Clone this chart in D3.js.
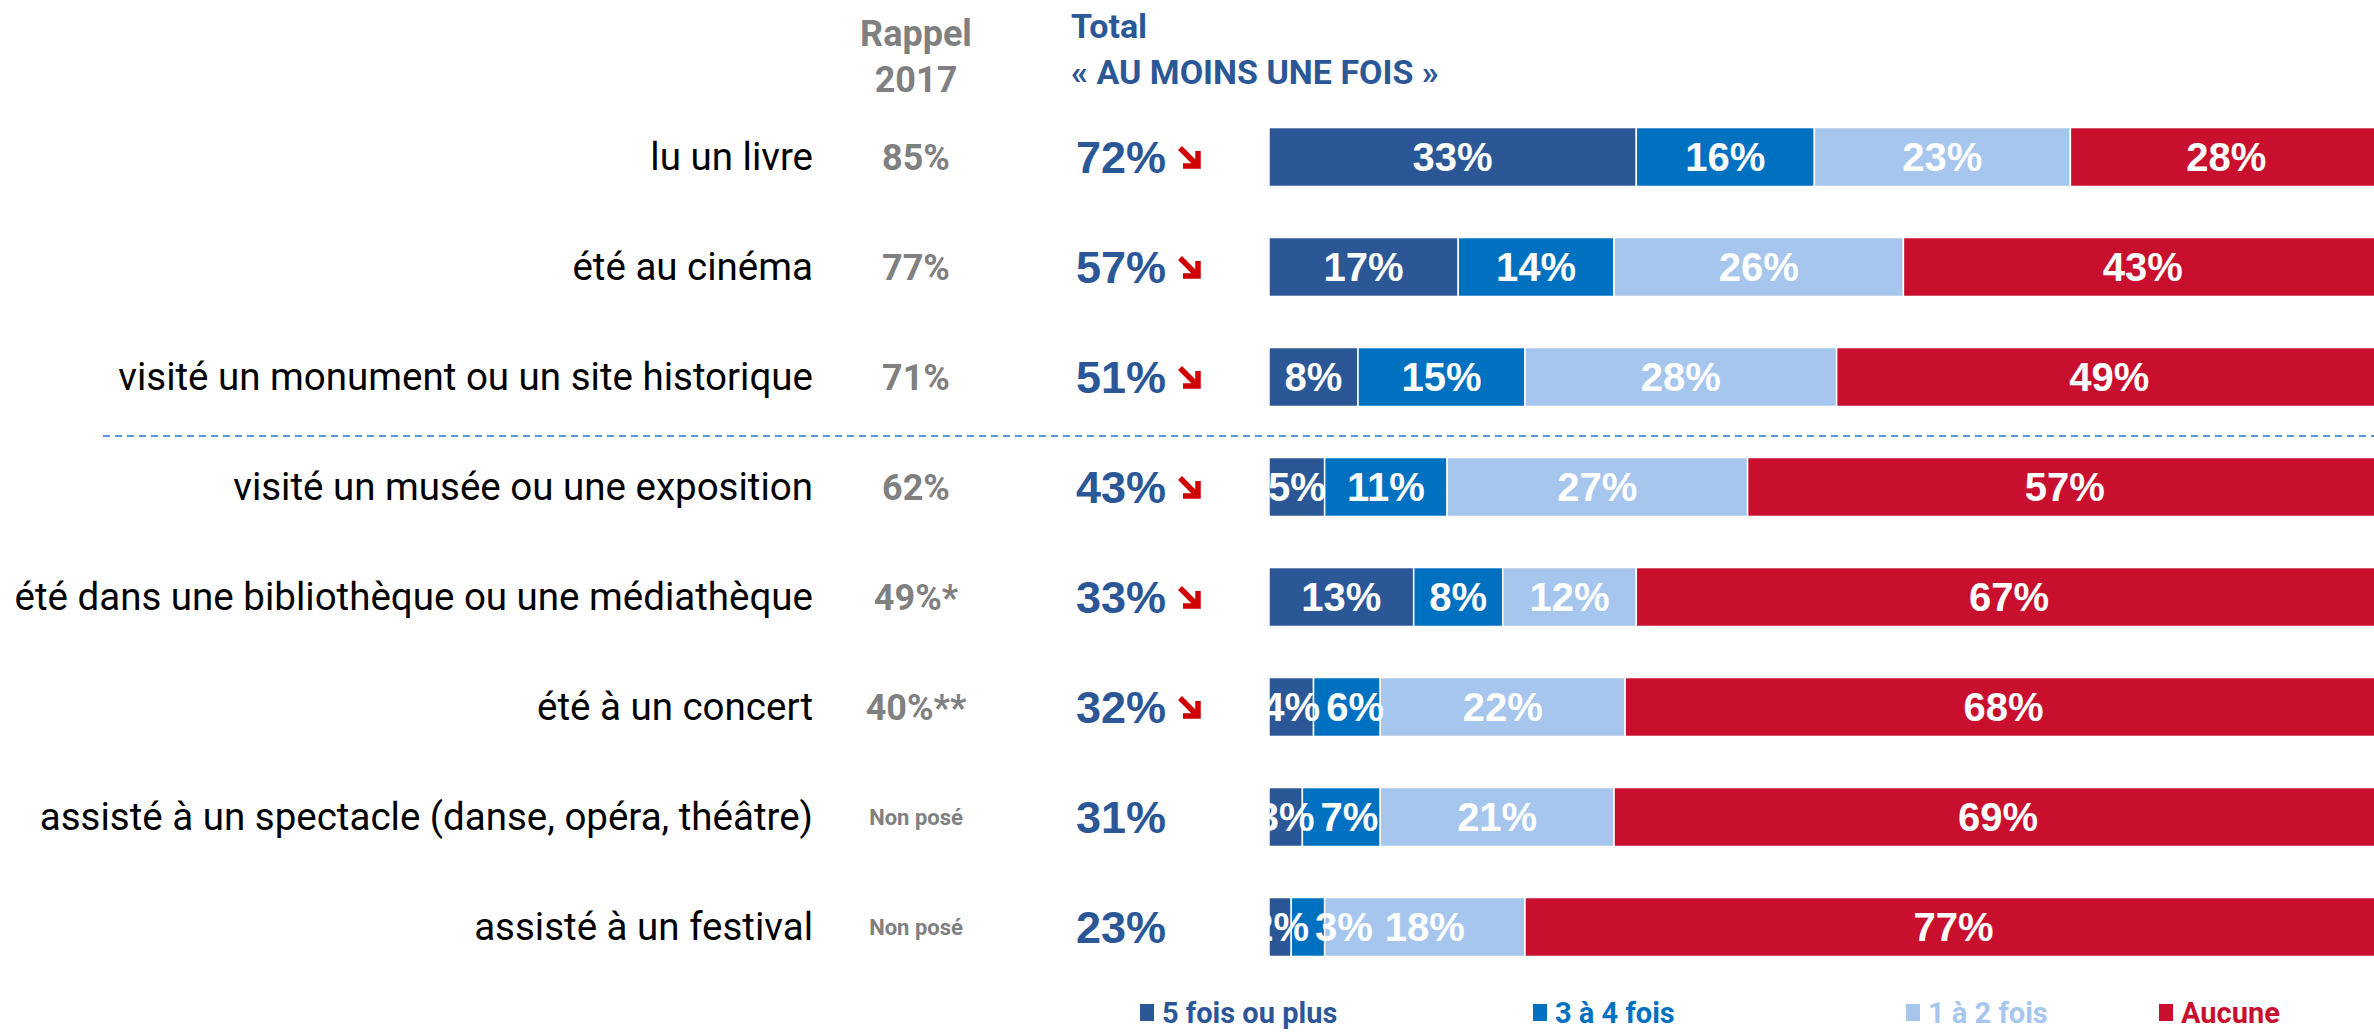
<!DOCTYPE html>
<meta charset="utf-8">
<script src="https://d3js.org/d3.v7.min.js"></script>
<style>
  body { margin: 0; background: #fff; }
</style>
<div id="my_dataviz"></div>
<script>
    // data
    var categories = ["lu un livre", "été au cinéma", "visité un monument ou un site historique",
      "visité un musée ou une exposition", "été dans une bibliothèque ou une médiathèque",
      "été à un concert", "assisté à un spectacle (danse, opéra, théâtre)", "assisté à un festival"];
    var rappel2017 = ["85%", "77%", "71%", "62%", "49%*", "40%**", "Non posé", "Non posé"];
    var totalAuMoins = [72, 57, 51, 43, 33, 32, 31, 23];
    var enBaisse = [true, true, true, true, true, true, false, false];
    var cinqFoisOuPlus = [33, 17, 8, 5, 13, 4, 3, 2];
    var troisAQuatre = [16, 14, 15, 11, 8, 6, 7, 3];
    var unADeux = [23, 26, 28, 27, 12, 22, 21, 18];
    var aucune = [28, 43, 49, 57, 67, 68, 69, 77];
    var seriesNames = ["5 fois ou plus", "3 à 4 fois", "1 à 2 fois", "Aucune"];

    var colors = ["#2B5797", "#0070C0", "#A6C6EE", "#C8102E"];
    var width = 2374, height = 1035;

    var svg = d3.select("#my_dataviz")
      .append("svg")
        .attr("width", width)
        .attr("height", height)
        .style("display", "block");

    // rows
    var y = d3.scaleBand()
      .domain(categories)
      .range([102, 982])
      .paddingInner(0.464)
      .paddingOuter(0.232);

    // stacked percent bar (runs a little past the right edge)
    var x = d3.scaleLinear()
      .domain([0, 100])
      .range([1269, 2382]);

    var table = categories.map(function(c, i) {
      return { cat: c, s0: cinqFoisOuPlus[i], s1: troisAQuatre[i], s2: unADeux[i], s3: aucune[i] };
    });
    var stack = d3.stack().keys(["s0", "s1", "s2", "s3"])(table);

    // column headers
    var head = svg.append("g").style("font-family", "Roboto, sans-serif").style("font-weight", "bold");
    head.append("text").attr("x", 916).attr("y", 46).attr("text-anchor", "middle")
      .style("font-size", "36px").style("fill", "#808080").text("Rappel");
    head.append("text").attr("x", 916).attr("y", 92).attr("text-anchor", "middle")
      .style("font-size", "36px").style("fill", "#808080").text("2017");
    head.append("text").attr("x", 1071).attr("y", 38)
      .style("font-size", "34px").style("fill", "#2B5797").text("Total");
    head.append("text").attr("x", 1071).attr("y", 84)
      .style("font-size", "34px").style("fill", "#2B5797").text("« AU MOINS UNE FOIS »");

    // row labels
    svg.append("g")
      .selectAll("text")
      .data(categories)
      .enter()
      .append("text")
        .attr("x", 813)
        .attr("y", function(d) { return y(d) + y.bandwidth() / 2; })
        .attr("dy", "0.35em")
        .attr("text-anchor", "end")
        .style("font-family", "Roboto, sans-serif")
        .style("font-size", "38.5px")
        .style("fill", "#000")
        .text(function(d) { return d; });

    // rappel 2017
    svg.append("g")
      .selectAll("text")
      .data(rappel2017)
      .enter()
      .append("text")
        .attr("x", 916)
        .attr("y", function(d, i) { return y(categories[i]) + y.bandwidth() / 2; })
        .attr("dy", "0.35em")
        .attr("text-anchor", "middle")
        .style("font-family", "Roboto, sans-serif")
        .style("font-weight", "bold")
        .style("font-size", function(d) { return d == "Non posé" ? "22px" : "36px"; })
        .style("fill", "#808080")
        .text(function(d) { return d; });

    // total "au moins une fois"
    svg.append("g")
      .selectAll("text")
      .data(totalAuMoins)
      .enter()
      .append("text")
        .attr("x", 1076)
        .attr("y", function(d, i) { return y(categories[i]) + y.bandwidth() / 2; })
        .attr("dy", "0.36em")
        .style("font-family", "'Liberation Sans', Arial, sans-serif")
        .style("font-weight", "bold")
        .style("font-size", "45px")
        .style("fill", "#2B5797")
        .text(function(d) { return d + "%"; });

    // down arrows
    svg.append("g")
      .selectAll("path")
      .data(categories.filter(function(d, i) { return enBaisse[i]; }))
      .enter()
      .append("path")
        .attr("transform", function(d) { return "translate(1179," + (y(d) + y.bandwidth() / 2 - 10) + ")"; })
        .attr("d", "M1,1 L17,17 M19,4 L19,19 L4,19")
        .attr("fill", "none")
        .attr("stroke", "#D00000")
        .attr("stroke-width", 5.5);

    // separator between groups
    var sepY = y(categories[2]) + y.bandwidth() + (y.step() - y.bandwidth()) / 2 + 4;
    svg.append("line")
      .attr("x1", 103).attr("x2", 2374)
      .attr("y1", sepY).attr("y2", sepY)
      .attr("stroke", "#5B9BD5")
      .attr("stroke-width", 2)
      .attr("stroke-dasharray", "7,5");

    // bars
    var layers = svg.append("g")
      .selectAll("g")
      .data(stack)
      .enter()
      .append("g")
        .attr("fill", function(d, i) { return colors[i]; });
    layers.selectAll("rect")
      .data(function(d) { return d; })
      .enter()
      .append("rect")
        .attr("x", function(d) { return x(d[0]); })
        .attr("y", function(d) { return y(d.data.cat); })
        .attr("width", function(d) { return x(d[1]) - x(d[0]); })
        .attr("height", y.bandwidth())
        .attr("stroke", "#fff")
        .attr("stroke-width", 1.5);

    // segment labels, centered, pushed right when they collide
    svg.append("clipPath").attr("id", "barclip")
      .append("rect").attr("x", x(0)).attr("y", 0).attr("width", width - x(0)).attr("height", height);
    var labelG = svg.append("g").attr("clip-path", "url(#barclip)");
    var fs = 40;
    table.forEach(function(row, r) {
      var prevRight = -Infinity;
      stack.forEach(function(layer) {
        var d = layer[r];
        var v = d[1] - d[0];
        var txt = v + "%";
        var w = (txt.length == 2 ? 1.445 : 2.0) * fs;
        var cx = (x(d[0]) + x(d[1])) / 2;
        if (cx - w / 2 < prevRight + 6) cx = prevRight + 6 + w / 2;
        prevRight = cx + w / 2;
        labelG.append("text")
          .attr("x", cx)
          .attr("y", y(row.cat) + y.bandwidth() / 2)
          .attr("dy", "0.36em")
          .attr("text-anchor", "middle")
          .style("font-family", "'Liberation Sans', Arial, sans-serif")
          .style("font-weight", "bold")
          .style("font-size", fs + "px")
          .style("fill", "#fff")
          .text(txt);
      });
    });

    // legend
    var legendX = [1140, 1533, 1906, 2159];
    var legend = svg.append("g")
      .selectAll("g")
      .data(seriesNames)
      .enter()
      .append("g")
        .attr("transform", function(d, i) { return "translate(" + legendX[i] + ",1013)"; });
    legend.append("rect")
      .attr("x", 0).attr("y", -9)
      .attr("width", 14).attr("height", 17)
      .attr("fill", function(d, i) { return colors[i]; });
    legend.append("text")
      .attr("x", 22).attr("dy", "0.36em")
      .style("font-family", "Roboto, sans-serif")
      .style("font-weight", "bold")
      .style("font-size", "29px")
      .style("fill", function(d, i) { return colors[i]; })
      .text(function(d) { return d; });
</script>
